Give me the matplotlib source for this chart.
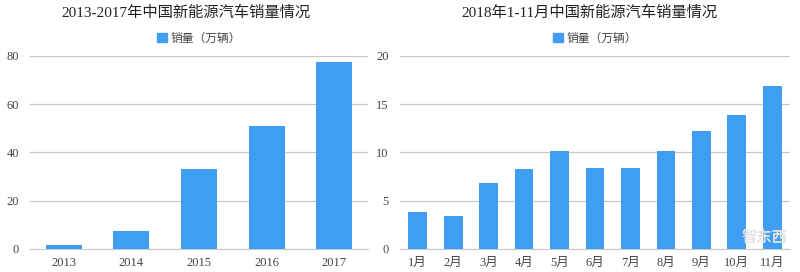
import matplotlib
matplotlib.use("Agg")
import matplotlib.pyplot as plt
from matplotlib.patches import Patch

plt.rcParams['font.family'] = ['Liberation Serif', 'Noto Sans CJK SC', 'DejaVu Sans']

# data
years = ['2013', '2014', '2015', '2016', '2017']
year_sales = [1.8, 7.5, 33.3, 51.0, 77.7]

months = ['1月', '2月', '3月', '4月', '5月', '6月', '7月', '8月', '9月', '10月', '11月']
month_sales = [3.8, 3.4, 6.8, 8.3, 10.2, 8.4, 8.4, 10.15, 12.2, 13.85, 16.9]

left_title = '2013-2017年中国新能源汽车销量情况'
right_title = '2018年1-11月中国新能源汽车销量情况'
series_name = '销量（万辆）'

bar_color = '#3f9ef2'
grid_color = '#c8c8c8'
text_color = '#444444'

fig = plt.figure(figsize=(8, 2.72), dpi=100)
ax1 = fig.add_axes([0.0375, 0.0846, 0.4225, 0.7096])
ax2 = fig.add_axes([0.5, 0.0846, 0.4875, 0.7096])


def style_axis(ax, cats, vals, ymax, step, title, title_x):
    ax.bar(range(len(cats)), vals, width=0.53, color=bar_color, zorder=3)
    ax.set_xlim(-0.5, len(cats) - 0.5)
    ax.set_ylim(0, ymax)
    ax.set_yticks(range(0, ymax + 1, step))
    ax.set_xticks(range(len(cats)))
    ax.set_xticklabels(cats, family=['Liberation Serif', 'Noto Sans CJK SC'])
    ax.grid(axis='y', color=grid_color, linewidth=0.9, zorder=0)
    for s in ['top', 'right', 'left']:
        ax.spines[s].set_visible(False)
    ax.spines['bottom'].set_color(grid_color)
    ax.tick_params(axis='both', length=0, labelsize=9, colors=text_color)
    ax.tick_params(axis='x', pad=6)
    ax.tick_params(axis='y', pad=8)
    fig.text(title_x, 0.955, title, ha='center', va='center', fontsize=11,
             color='#222222', family=['Liberation Serif', 'Noto Sans CJK SC'])
    leg = ax.legend(handles=[Patch(color=bar_color, label=series_name)],
                    loc='center', bbox_to_anchor=(0.5, 1.093), frameon=False,
                    handlelength=0.8, handleheight=0.8, handletextpad=0.3,
                    prop={'family': 'Noto Sans CJK SC', 'size': 8.5})
    for t in leg.get_texts():
        t.set_color(text_color)


style_axis(ax1, years, year_sales, 80, 20, left_title, 0.232)
style_axis(ax2, months, month_sales, 20, 5, right_title, 0.737)

# watermark
fig.text(0.955, 0.13, '智东西', ha='center', va='center', fontsize=11,
         color='#e2e2e2', family='Noto Sans CJK SC', fontweight='bold')

fig.savefig('out.png', dpi=100)
